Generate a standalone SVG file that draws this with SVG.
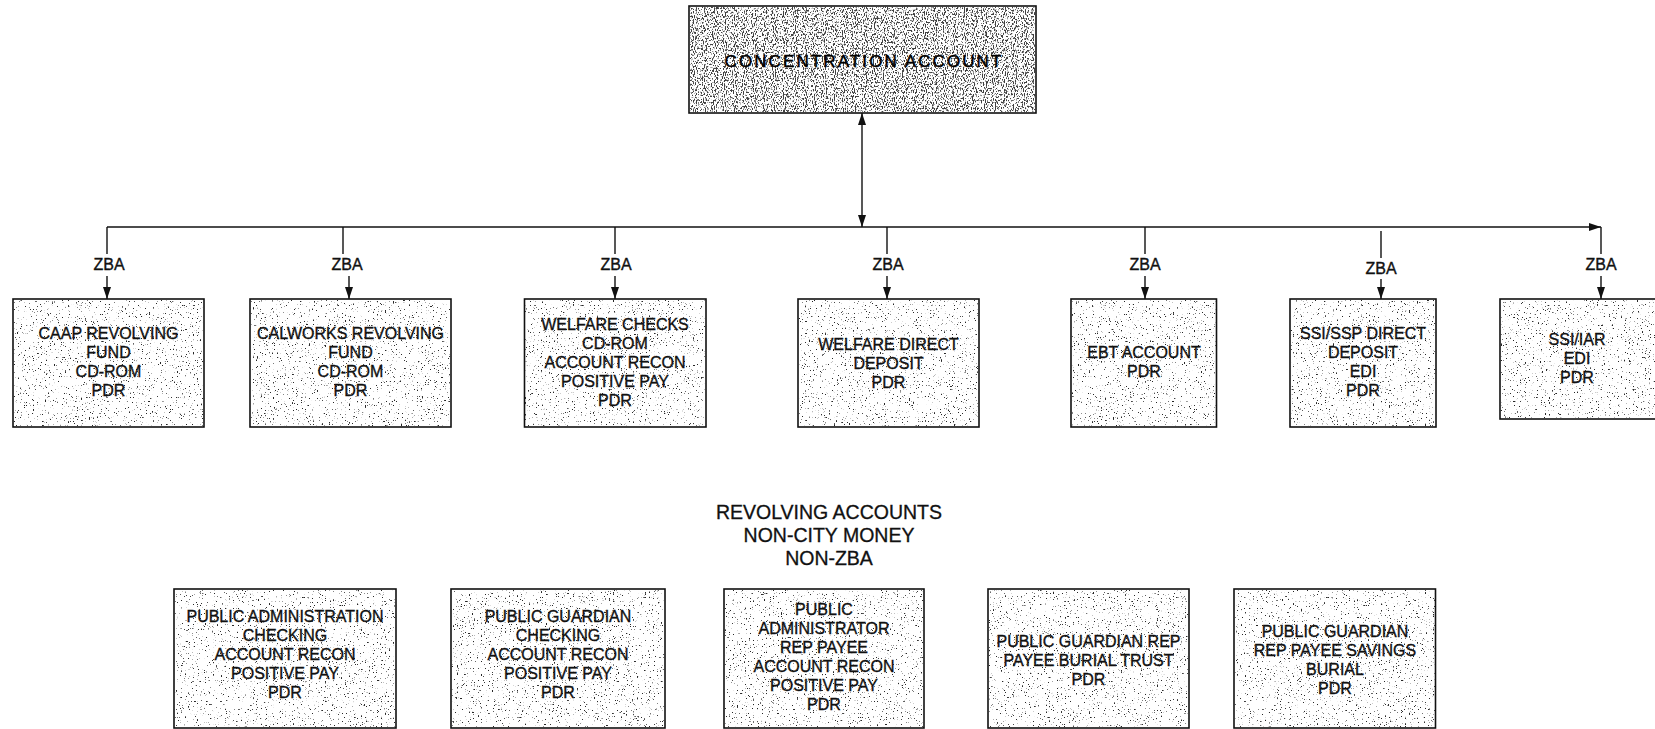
<svg xmlns="http://www.w3.org/2000/svg" width="1655" height="729" viewBox="0 0 1655 729">
  <style>
    .box { fill: #ffffff; stroke: #111111; stroke-width: 1.6; }
    .t { font-family: "Liberation Sans", Arial, sans-serif; font-size: 16px; text-anchor: middle; fill: #111111; stroke: #111111; stroke-width: 0.35; }
    .title { font-family: "Liberation Sans", Arial, sans-serif; font-size: 19.5px; text-anchor: middle; fill: #111111; stroke: #111111; stroke-width: 0.3; }
    .head { font-family: "Liberation Sans", Arial, sans-serif; font-size: 17px; letter-spacing: 2.1px; text-anchor: middle; fill: #000000; stroke: #000000; stroke-width: 0.5; }
    .wire { fill: none; stroke: #111111; stroke-width: 1.4; }
    .arrow { fill: none; stroke: #111111; stroke-width: 1.4; marker-end: url(#tip); }
  </style>
  <defs>
    <marker id="tip" viewBox="0 0 12 8" refX="12" refY="4" markerWidth="12" markerHeight="8" markerUnits="userSpaceOnUse" orient="auto-start-reverse">
      <path d="M0,0 L12,4 L0,8 Z" fill="#111111"/>
    </marker>
    <!-- light stipple used on the account boxes -->
    <filter id="speck" x="0" y="0" width="1" height="1" color-interpolation-filters="sRGB">
      <feTurbulence type="fractalNoise" baseFrequency="0.75" numOctaves="2" seed="4" result="n"/>
      <feColorMatrix in="n" type="matrix" values="0 0 0 0 0.15  0 0 0 0 0.15  0 0 0 0 0.15  1 0 0 0 0"/>
      <feComponentTransfer><feFuncA type="linear" slope="12" intercept="-8.0"/></feComponentTransfer>
    </filter>
    <!-- heavier stipple for the concentration account -->
    <filter id="speckDark" x="0" y="0" width="1" height="1" color-interpolation-filters="sRGB">
      <feTurbulence type="fractalNoise" baseFrequency="0.9 0.5" numOctaves="2" seed="9" result="n"/>
      <feColorMatrix in="n" type="matrix" values="0 0 0 0 0.25  0 0 0 0 0.25  0 0 0 0 0.25  1 0 0 0 0"/>
      <feComponentTransfer><feFuncA type="linear" slope="9" intercept="-4.6"/></feComponentTransfer>
    </filter>
  </defs>

  <rect width="1655" height="729" fill="#ffffff"/>

  <!-- top account -->
  <g id="concentration">
    <rect class="box" x="689" y="6" width="347" height="107"/>
    <rect x="690" y="7" width="345" height="105" fill="#000" filter="url(#speckDark)"/>
    <text class="head" x="864" y="67">CONCENTRATION ACCOUNT</text>
  </g>

  <!-- connectors -->
  <g id="connectors">
    <line class="wire" x1="862" y1="113" x2="862" y2="227" marker-start="url(#tip)" marker-end="url(#tip)"/>
    <line class="arrow" x1="107" y1="227" x2="1601" y2="227"/>

    <line class="wire" x1="107" y1="227" x2="107" y2="254"/>
    <line class="arrow" x1="107" y1="276" x2="107" y2="299"/>
    <text class="t" x="109" y="270">ZBA</text>

    <line class="wire" x1="343" y1="227" x2="343" y2="254"/>
    <line class="arrow" x1="349" y1="276" x2="349" y2="299"/>
    <text class="t" x="347" y="270">ZBA</text>

    <line class="wire" x1="615" y1="227" x2="615" y2="254"/>
    <line class="arrow" x1="615" y1="276" x2="615" y2="299"/>
    <text class="t" x="616" y="270">ZBA</text>

    <line class="wire" x1="887" y1="227" x2="887" y2="254"/>
    <line class="arrow" x1="887" y1="276" x2="887" y2="299"/>
    <text class="t" x="888" y="270">ZBA</text>

    <line class="wire" x1="1145" y1="227" x2="1145" y2="254"/>
    <line class="arrow" x1="1145" y1="276" x2="1145" y2="299"/>
    <text class="t" x="1145" y="270">ZBA</text>

    <line class="wire" x1="1381" y1="231" x2="1381" y2="258"/>
    <line class="arrow" x1="1381" y1="279" x2="1381" y2="299"/>
    <text class="t" x="1381" y="274">ZBA</text>

    <line class="wire" x1="1601" y1="227" x2="1601" y2="254"/>
    <line class="arrow" x1="1601" y1="276" x2="1601" y2="299"/>
    <text class="t" x="1601" y="270">ZBA</text>
  </g>

  <!-- ZBA accounts -->
  <g id="caap">
    <rect class="box" x="13" y="299" width="191" height="128"/>
    <rect x="14" y="300" width="189" height="126" filter="url(#speck)"/>
    <text class="t" x="108.5" y="339">CAAP REVOLVING</text>
    <text class="t" x="108.5" y="358">FUND</text>
    <text class="t" x="108.5" y="377">CD-ROM</text>
    <text class="t" x="108.5" y="396">PDR</text>
  </g>

  <g id="calworks">
    <rect class="box" x="250" y="299" width="201" height="128"/>
    <rect x="251" y="300" width="199" height="126" filter="url(#speck)"/>
    <text class="t" x="350.5" y="339">CALWORKS REVOLVING</text>
    <text class="t" x="350.5" y="358">FUND</text>
    <text class="t" x="350.5" y="377">CD-ROM</text>
    <text class="t" x="350.5" y="396">PDR</text>
  </g>

  <g id="welfare-checks">
    <rect class="box" x="524.5" y="299" width="181.5" height="128"/>
    <rect x="525.5" y="300" width="179.5" height="126" filter="url(#speck)"/>
    <text class="t" x="615" y="329.5">WELFARE CHECKS</text>
    <text class="t" x="615" y="348.5">CD-ROM</text>
    <text class="t" x="615" y="367.5">ACCOUNT RECON</text>
    <text class="t" x="615" y="386.5">POSITIVE PAY</text>
    <text class="t" x="615" y="405.5">PDR</text>
  </g>

  <g id="welfare-direct">
    <rect class="box" x="798" y="299" width="181" height="128"/>
    <rect x="799" y="300" width="179" height="126" filter="url(#speck)"/>
    <text class="t" x="888.5" y="350">WELFARE DIRECT</text>
    <text class="t" x="888.5" y="369">DEPOSIT</text>
    <text class="t" x="888.5" y="388">PDR</text>
  </g>

  <g id="ebt">
    <rect class="box" x="1071" y="299" width="145.5" height="128"/>
    <rect x="1072" y="300" width="143.5" height="126" filter="url(#speck)"/>
    <text class="t" x="1144" y="358">EBT ACCOUNT</text>
    <text class="t" x="1144" y="377">PDR</text>
  </g>

  <g id="ssi-ssp">
    <rect class="box" x="1290" y="299" width="146" height="128"/>
    <rect x="1291" y="300" width="144" height="126" filter="url(#speck)"/>
    <text class="t" x="1363" y="339">SSI/SSP DIRECT</text>
    <text class="t" x="1363" y="358">DEPOSIT</text>
    <text class="t" x="1363" y="377">EDI</text>
    <text class="t" x="1363" y="396">PDR</text>
  </g>

  <g id="ssi-iar">
    <rect class="box" x="1500" y="299" width="170" height="120"/>
    <rect x="1501" y="300" width="168" height="118" filter="url(#speck)"/>
    <text class="t" x="1577" y="345">SSI/IAR</text>
    <text class="t" x="1577" y="364">EDI</text>
    <text class="t" x="1577" y="383">PDR</text>
  </g>

  <!-- non-ZBA group heading -->
  <g id="revolving-heading">
    <text class="title" x="829" y="519">REVOLVING ACCOUNTS</text>
    <text class="title" x="829" y="542">NON-CITY MONEY</text>
    <text class="title" x="829" y="565">NON-ZBA</text>
  </g>

  <!-- revolving accounts -->
  <g id="public-admin">
    <rect class="box" x="174" y="589" width="222" height="139"/>
    <rect x="175" y="590" width="220" height="137" filter="url(#speck)"/>
    <text class="t" x="285" y="621.5">PUBLIC ADMINISTRATION</text>
    <text class="t" x="285" y="640.5">CHECKING</text>
    <text class="t" x="285" y="659.5">ACCOUNT RECON</text>
    <text class="t" x="285" y="678.5">POSITIVE PAY</text>
    <text class="t" x="285" y="697.5">PDR</text>
  </g>

  <g id="public-guardian">
    <rect class="box" x="451" y="589" width="214" height="139"/>
    <rect x="452" y="590" width="212" height="137" filter="url(#speck)"/>
    <text class="t" x="558" y="621.5">PUBLIC GUARDIAN</text>
    <text class="t" x="558" y="640.5">CHECKING</text>
    <text class="t" x="558" y="659.5">ACCOUNT RECON</text>
    <text class="t" x="558" y="678.5">POSITIVE PAY</text>
    <text class="t" x="558" y="697.5">PDR</text>
  </g>

  <g id="public-admin-rep-payee">
    <rect class="box" x="724" y="589" width="200" height="139"/>
    <rect x="725" y="590" width="198" height="137" filter="url(#speck)"/>
    <text class="t" x="824" y="615">PUBLIC</text>
    <text class="t" x="824" y="634">ADMINISTRATOR</text>
    <text class="t" x="824" y="653">REP PAYEE</text>
    <text class="t" x="824" y="672">ACCOUNT RECON</text>
    <text class="t" x="824" y="691">POSITIVE PAY</text>
    <text class="t" x="824" y="710">PDR</text>
  </g>

  <g id="guardian-burial-trust">
    <rect class="box" x="988" y="589" width="201" height="139"/>
    <rect x="989" y="590" width="199" height="137" filter="url(#speck)"/>
    <text class="t" x="1088.5" y="647">PUBLIC GUARDIAN REP</text>
    <text class="t" x="1088.5" y="666">PAYEE BURIAL TRUST</text>
    <text class="t" x="1088.5" y="685">PDR</text>
  </g>

  <g id="guardian-burial-savings">
    <rect class="box" x="1234" y="589" width="201.5" height="139"/>
    <rect x="1235" y="590" width="199.5" height="137" filter="url(#speck)"/>
    <text class="t" x="1335" y="637">PUBLIC GUARDIAN</text>
    <text class="t" x="1335" y="656">REP PAYEE SAVINGS</text>
    <text class="t" x="1335" y="675">BURIAL</text>
    <text class="t" x="1335" y="694">PDR</text>
  </g>
</svg>
